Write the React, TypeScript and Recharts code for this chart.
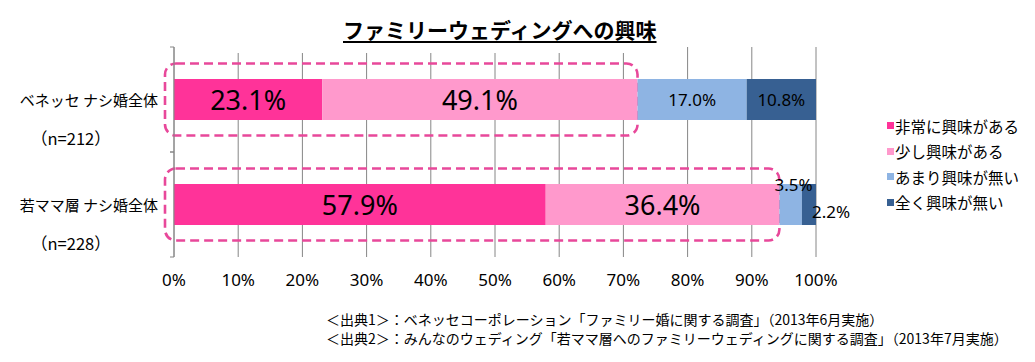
import { BarChart, Bar, XAxis, YAxis, CartesianGrid, LabelList, ReferenceArea } from 'recharts'

const categories = ['ベネッセ ナシ婚全体', '若ママ層 ナシ婚全体']
const sampleSizes = ['（n=212）', '（n=228）']
const seriesNames = ['非常に興味がある', '少し興味がある', 'あまり興味が無い', '全く興味が無い']
const veryInterested = [23.1, 57.9]
const somewhatInterested = [49.1, 36.4]
const notVeryInterested = [17.0, 3.5]
const notInterested = [10.8, 2.2]
const xTicks = [0, 10, 20, 30, 40, 50, 60, 70, 80, 90, 100]
const title = 'ファミリーウェディングへの興味'
const sources = [
  '＜出典1＞：ベネッセコーポレーション「ファミリー婚に関する調査」（2013年6月実施）',
  '＜出典2＞：みんなのウェディング「若ママ層へのファミリーウェディングに関する調査」（2013年7月実施）',
]

const colors = ['#FF3399', '#FF99CC', '#8EB4E3', '#376092']

const data = categories.map((name, i) => ({
  name,
  s1: veryInterested[i],
  s2: somewhatInterested[i],
  s3: notVeryInterested[i],
  s4: notInterested[i],
}))

const jp = '"Noto Sans CJK JP", "Noto Sans", sans-serif'
const num = '"Noto Sans", "Noto Sans CJK JP", sans-serif'
const fmt = (v: number) => v.toFixed(1) + '%'

const BigLabel = (props: any) => {
  const { x, y, width, height, value } = props
  return (
    <text x={x + width / 2} y={y + height / 2} textAnchor="middle" dominantBaseline="central"
      fontSize={27} fontFamily={num} fill="#000">{fmt(value)}</text>
  )
}

// small segments: Excel labels were moved by hand
const SmallLabel3 = (props: any) => {
  const { x, y, width, height, value } = props
  if (width > 40) {
    return <text x={x + width / 2} y={y + height / 2} textAnchor="middle" dominantBaseline="central"
      fontSize={17} fontFamily={num} fill="#000">{fmt(value)}</text>
  }
  return <text x={x + width / 2 + 3} y={y} textAnchor="middle" dominantBaseline="central"
    fontSize={17} fontFamily={num} fill="#000">{fmt(value)}</text>
}

const SmallLabel4 = (props: any) => {
  const { x, y, width, height, value } = props
  if (width > 40) {
    return <text x={x + width / 2} y={y + height / 2} textAnchor="middle" dominantBaseline="central"
      fontSize={17} fontFamily={num} fill="#000">{fmt(value)}</text>
  }
  return <text x={x + width - 4} y={y + height / 2 + 7} textAnchor="start" dominantBaseline="central"
    fontSize={17} fontFamily={num} fill="#000">{fmt(value)}</text>
}

const CategoryTick = (props: any) => {
  const { x, y, payload, index } = props
  return (
    <g>
      <line x1={x - 4} x2={x} y1={y - 52.5} y2={y - 52.5} stroke="#868686" />
      <line x1={x - 4} x2={x} y1={y + 52.5} y2={y + 52.5} stroke="#868686" />
      <text x={x - 16} y={y} textAnchor="end" dominantBaseline="central" fontSize={15} fontFamily={jp} fill="#000">
        {payload.value}
      </text>
      <text x={x - 143} y={y + 38} textAnchor="start" dominantBaseline="central" fontSize={16.5} fontFamily={jp} fill="#000">
        {sampleSizes[index]}
      </text>
    </g>
  )
}

const HighlightBox = (props: any) => {
  const { x, y, width, height } = props
  const cy = y + height / 2
  return (
    <rect x={x - 9} y={cy - 36} width={width + 9} height={72} rx={11} ry={11}
      fill="none" stroke="#E8489A" strokeWidth={2.6} strokeDasharray="9 5" />
  )
}

export default function App() {
  return (
    <div style={{ position: 'absolute', left: 0, top: 0, width: 1035, height: 362, background: '#fff' }}>
      <BarChart width={1035} height={362} data={data} layout="vertical"
        margin={{ top: 47, right: 219, bottom: 75, left: 0 }} barSize={41}>
        <CartesianGrid horizontal={false} stroke="#868686" />
        <XAxis type="number" domain={[0, 100]} ticks={xTicks} tickFormatter={(v: number) => `${v}%`}
          axisLine={false} tickLine={false} tickSize={0} tickMargin={17} height={30}
          tick={{ fontSize: 17, fontFamily: num, fill: '#000' }} />
        <YAxis type="category" dataKey="name" width={174} axisLine={{ stroke: '#868686' }}
          tickLine={false} tickSize={0} tickMargin={0} tick={<CategoryTick />} />
        <Bar dataKey="s1" name={seriesNames[0]} stackId="a" fill={colors[0]} isAnimationActive={false}>
          <LabelList dataKey="s1" content={<BigLabel />} />
        </Bar>
        <Bar dataKey="s2" name={seriesNames[1]} stackId="a" fill={colors[1]} isAnimationActive={false}>
          <LabelList dataKey="s2" content={<BigLabel />} />
        </Bar>
        <Bar dataKey="s3" name={seriesNames[2]} stackId="a" fill={colors[2]} isAnimationActive={false}>
          <LabelList dataKey="s3" content={<SmallLabel3 />} />
        </Bar>
        <Bar dataKey="s4" name={seriesNames[3]} stackId="a" fill={colors[3]} isAnimationActive={false}>
          <LabelList dataKey="s4" content={<SmallLabel4 />} />
        </Bar>
        {data.map((d) => (
          <ReferenceArea key={d.name} x1={0} x2={d.s1 + d.s2} y1={d.name} y2={d.name}
            shape={<HighlightBox />} ifOverflow="visible" />
        ))}
      </BarChart>

      {/* title box is white and hides the top of the gridlines below it */}
      <div style={{
        position: 'absolute', left: 200, top: 12, width: 460, height: 41, background: '#fff',
        fontFamily: jp, fontWeight: 'bold', fontSize: 21, lineHeight: '34px', color: '#000',
        paddingLeft: 143, boxSizing: 'border-box', whiteSpace: 'nowrap',
      }}>
        <span style={{ textDecoration: 'underline', textUnderlineOffset: 3 }}>{title}</span>
      </div>

      <div style={{ position: 'absolute', left: 887, top: 113, fontFamily: jp, fontSize: 15.5, color: '#000' }}>
        {seriesNames.map((s, i) => (
          <div key={s} style={{ display: 'flex', alignItems: 'center', height: 25.5, whiteSpace: 'nowrap' }}>
            <span style={{ width: 7, height: 7, background: colors[i], marginRight: 1, display: 'inline-block' }} />
            <span>{s}</span>
          </div>
        ))}
      </div>

      <div style={{ position: 'absolute', left: 326, top: 310, fontFamily: jp, fontSize: 14, lineHeight: '19px', color: '#000', whiteSpace: 'nowrap' }}>
        {sources.map((s) => <div key={s}>{s}</div>)}
      </div>
    </div>
  )
}
